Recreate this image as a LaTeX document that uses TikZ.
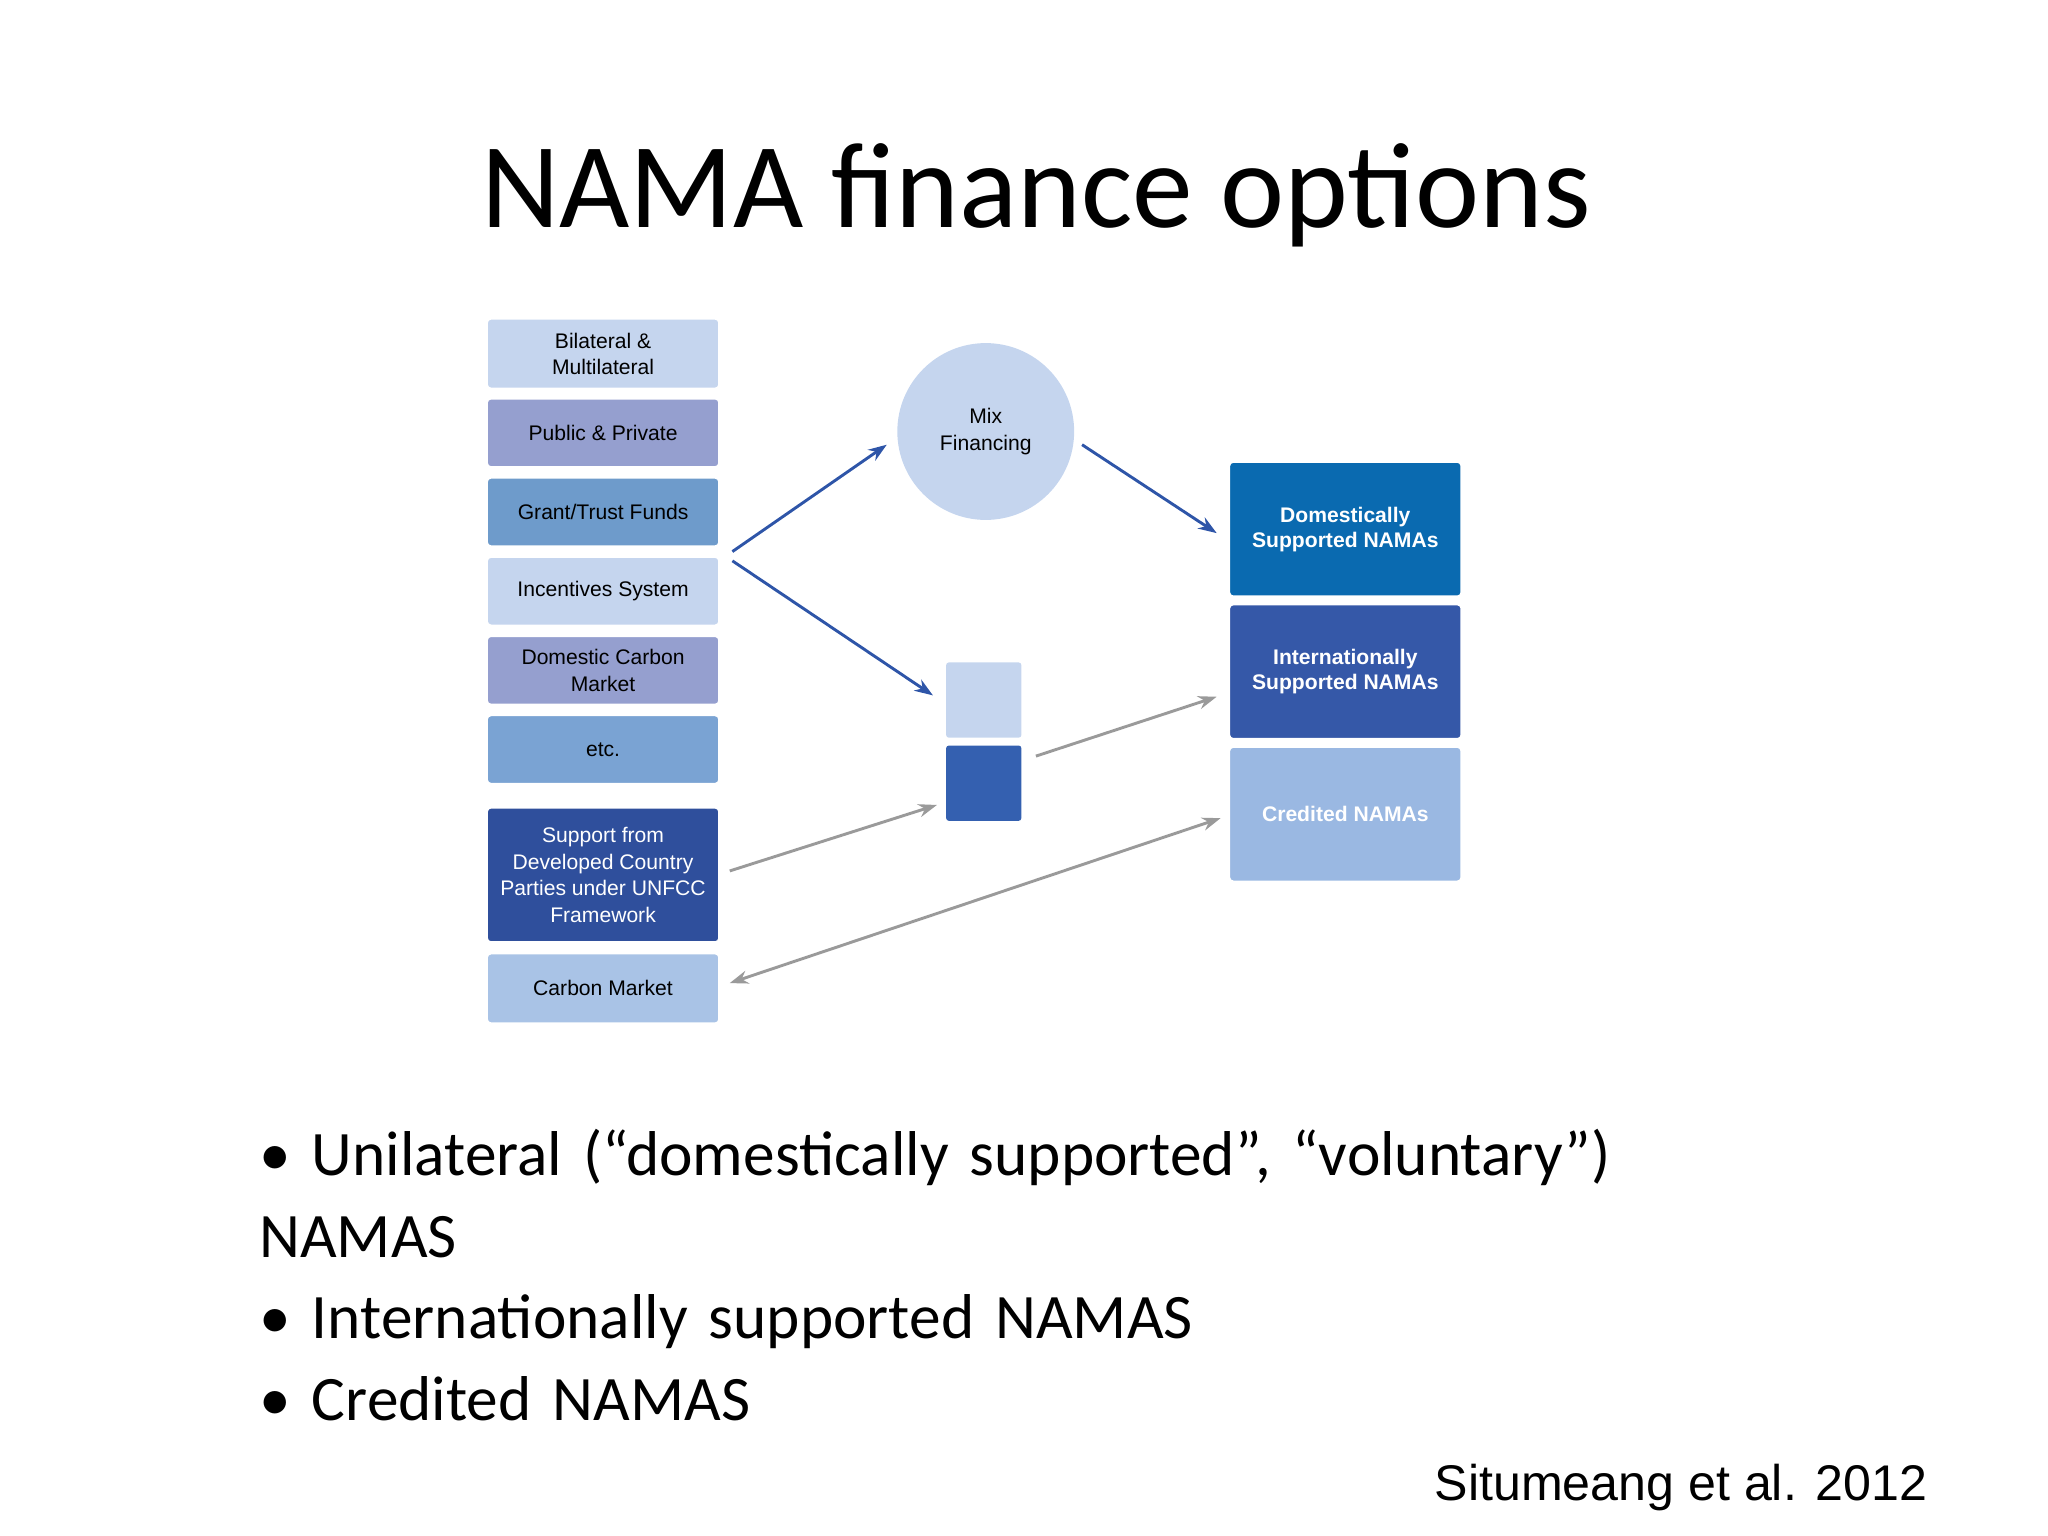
\documentclass[tikz,border=0pt]{standalone}
\usepackage{fontspec}
\setmainfont{Carlito}
\newfontfamily\arial{Liberation Sans}
\definecolor{lb}{HTML}{C5D5EE}
\definecolor{pu}{HTML}{959FCF}
\definecolor{mb}{HTML}{6E9BCB}
\definecolor{eb}{HTML}{7AA3D3}
\definecolor{db}{HTML}{2F4F9C}
\definecolor{cb}{HTML}{A9C3E6}
\definecolor{r1}{HTML}{0A6AB0}
\definecolor{r2}{HTML}{3558A8}
\definecolor{r3}{HTML}{9AB8E2}
\definecolor{sq}{HTML}{3460B0}
\definecolor{ab}{HTML}{2E55A8}
\definecolor{ag}{HTML}{9A9A9A}
\usetikzlibrary{arrows.meta}
\begin{document}
\begin{tikzpicture}[x=1pt,y=-1pt,
 lbox/.style={draw=white,line width=1.5pt,rounded corners=3pt,minimum width=176pt,align=center,font=\arial\fontsize{16}{20}\selectfont,inner sep=1pt},
 rbox/.style={draw=white,line width=1.5pt,rounded corners=3pt,minimum width=176pt,minimum height=102pt,align=center,font=\arial\bfseries\fontsize{16}{19}\selectfont,text=white},
 barrow/.style={draw=ab,line width=2.2pt,-{Stealth[length=14pt,width=10pt]}},
 garrow/.style={draw=ag,line width=2.2pt,-{Stealth[length=14pt,width=10pt]}}]
\useasboundingbox (0,0) rectangle (1552,1164);
\node[font=\fontsize{92}{100}\selectfont] (title) at (785,148) {NAMA finance options};
\node[lbox,fill=lb,minimum height=53pt] (b1) at (457,268) {Bilateral \&\\Multilateral};
\node[lbox,fill=pu,minimum height=52pt] (b2) at (457,328) {Public \& Private};
\node[lbox,fill=mb,minimum height=52pt] (b3) at (457,388) {Grant/Trust Funds};
\node[lbox,fill=lb,minimum height=52pt] (b4) at (457,448) {Incentives System};
\node[lbox,fill=pu,minimum height=52pt] (b5) at (457,508) {Domestic Carbon\\Market};
\node[lbox,fill=eb,minimum height=52pt] (b6) at (457,568) {etc.};
\node[lbox,fill=db,minimum height=102pt,text=white] (b7) at (457,663) {Support from\\Developed Country\\Parties under UNFCC\\Framework};
\node[lbox,fill=cb,minimum height=53pt] (b8) at (457,749) {Carbon Market};
\node[circle,fill=lb,minimum size=134pt,align=center,font=\arial\fontsize{16}{20}\selectfont] (mix) at (747,327) {Mix\\Financing};
\node[fill=lb,minimum size=57pt,rounded corners=2pt] (s1) at (745.5,530.5) {};
\node[fill=sq,minimum size=57pt,rounded corners=2pt] (s2) at (745.5,593.5) {};
\node[rbox,fill=r1] (r1) at (1019.5,401) {Domestically\\Supported NAMAs};
\node[rbox,fill=r2] (r2) at (1019.5,509) {Internationally\\Supported NAMAs};
\node[rbox,fill=r3] (r3) at (1019.5,617) {Credited NAMAs};
\coordinate (a1) at (555,418); \coordinate (a2) at (672,337);
\coordinate (a3) at (820,337); \coordinate (a4) at (922,404);
\coordinate (a5) at (555,425); \coordinate (a6) at (707,527);
\coordinate (g1) at (785,573); \coordinate (g2) at (922,528);
\coordinate (g3) at (553,660); \coordinate (g4) at (710,610);
\coordinate (g5) at (553,745); \coordinate (g6) at (925,620);
\draw[barrow] (a1) -- (a2);
\draw[barrow] (a3) -- (a4);
\draw[barrow] (a5) -- (a6);
\draw[garrow] (g1) -- (g2);
\draw[garrow] (g3) -- (g4);
\draw[garrow,{Stealth[length=14pt,width=10pt]}-{Stealth[length=14pt,width=10pt]}] (g5) -- (g6);
\node[anchor=north west,align=left,font=\fontsize{48}{62}\selectfont,text width=1200pt] (bul) at (193,852) {\textbullet\ Unilateral (“domestically supported”, “voluntary”)\\NAMAS\\\textbullet\ Internationally supported NAMAS\\\textbullet\ Credited NAMAS};
\node[anchor=east,font=\arial\fontsize{38}{44}\selectfont] (cite) at (1464,1127) {Situmeang et al. 2012};
\end{tikzpicture}
\end{document}
